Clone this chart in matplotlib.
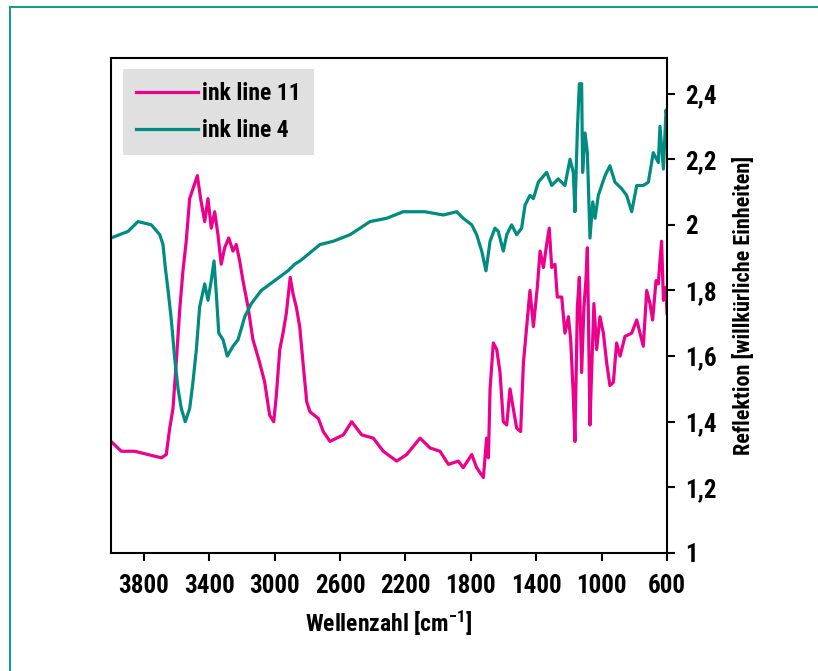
import matplotlib
matplotlib.use('Agg')
import matplotlib.pyplot as plt
from matplotlib import font_manager
from matplotlib.lines import Line2D
from matplotlib.ticker import FuncFormatter

# ink line 11 (pink)
wn_11 = [4000, 3937, 3855, 3774, 3692, 3662, 3641, 3621, 3601, 3580, 3560, 3540, 3519,
         3492, 3472, 3452, 3427, 3407, 3387, 3366, 3346, 3326, 3305, 3280, 3254, 3234,
         3213, 3193, 3162, 3132, 3091, 3060, 3030, 3005, 2989, 2968, 2948, 2928, 2904,
         2887, 2867, 2846, 2824, 2803, 2783, 2732, 2702, 2661, 2579, 2528, 2467, 2396,
         2335, 2253, 2192, 2110, 2049, 1988, 1937, 1876, 1846, 1794, 1764, 1723, 1703,
         1692, 1682, 1662, 1641, 1621, 1601, 1580, 1560, 1540, 1519, 1495, 1478, 1458,
         1438, 1417, 1393, 1376, 1356, 1336, 1320, 1305, 1285, 1271, 1244, 1224, 1203,
         1189, 1173, 1163, 1148, 1136, 1122, 1108, 1096, 1087, 1079, 1071, 1061, 1047,
         1030, 1010, 989, 969, 949, 928, 908, 887, 857, 816, 785, 765, 745, 724, 704,
         688, 667, 653, 643, 633, 622, 606, 600]
refl_11 = [1.34, 1.31, 1.31, 1.30, 1.29, 1.30, 1.38, 1.44, 1.58, 1.74, 1.86, 1.95, 2.08,
           2.12, 2.15, 2.08, 2.01, 2.08, 1.99, 2.04, 1.97, 1.88, 1.93, 1.96, 1.92, 1.94,
           1.89, 1.83, 1.75, 1.65, 1.58, 1.52, 1.42, 1.40, 1.48, 1.62, 1.67, 1.73, 1.84,
           1.79, 1.75, 1.69, 1.57, 1.46, 1.43, 1.41, 1.37, 1.34, 1.36, 1.40, 1.36, 1.35,
           1.31, 1.28, 1.30, 1.35, 1.32, 1.31, 1.27, 1.28, 1.26, 1.30, 1.26, 1.23, 1.35,
           1.29, 1.50, 1.64, 1.62, 1.55, 1.40, 1.39, 1.50, 1.44, 1.38, 1.37, 1.58, 1.69,
           1.80, 1.69, 1.81, 1.92, 1.87, 1.94, 1.99, 1.87, 1.88, 1.78, 1.78, 1.67, 1.72,
           1.65, 1.48, 1.34, 1.75, 1.84, 1.55, 1.75, 1.83, 1.93, 1.67, 1.39, 1.55, 1.76,
           1.62, 1.72, 1.67, 1.58, 1.51, 1.52, 1.64, 1.60, 1.66, 1.67, 1.71, 1.67, 1.63,
           1.80, 1.76, 1.71, 1.83, 1.82, 1.89, 1.95, 1.77, 1.81, 1.73]

# ink line 4 (teal)
wn_4 = [4000, 3896, 3835, 3753, 3702, 3682, 3668, 3651, 3631, 3610, 3590, 3570, 3546,
        3519, 3499, 3478, 3458, 3427, 3407, 3387, 3370, 3356, 3341, 3315, 3289, 3254,
        3223, 3182, 3142, 3081, 2999, 2918, 2877, 2844, 2795, 2722, 2641, 2538, 2416,
        2314, 2213, 2080, 1968, 1886, 1846, 1794, 1764, 1733, 1707, 1682, 1652, 1632,
        1601, 1580, 1550, 1519, 1489, 1468, 1438, 1417, 1387, 1336, 1305, 1265, 1224,
        1193, 1173, 1163, 1148, 1136, 1122, 1116, 1101, 1087, 1071, 1054, 1040, 1020,
        979, 949, 918, 877, 847, 816, 785, 745, 714, 684, 653, 643, 622, 606, 600]
refl_4 = [1.96, 1.98, 2.01, 2.00, 1.97, 1.94, 1.87, 1.80, 1.71, 1.59, 1.50, 1.44, 1.40,
          1.44, 1.52, 1.62, 1.75, 1.82, 1.77, 1.83, 1.89, 1.79, 1.67, 1.65, 1.60, 1.63,
          1.65, 1.72, 1.76, 1.80, 1.83, 1.86, 1.88, 1.89, 1.91, 1.94, 1.95, 1.97, 2.01,
          2.02, 2.04, 2.04, 2.03, 2.04, 2.02, 2.00, 1.97, 1.92, 1.86, 1.95, 1.99, 1.98,
          1.92, 1.97, 2.00, 1.97, 1.99, 2.06, 2.09, 2.08, 2.13, 2.16, 2.12, 2.14, 2.12,
          2.20, 2.16, 2.04, 2.29, 2.43, 2.43, 2.16, 2.28, 2.22, 1.96, 2.07, 2.02, 2.09,
          2.15, 2.18, 2.13, 2.11, 2.09, 2.04, 2.12, 2.12, 2.13, 2.22, 2.19, 2.30, 2.17,
          2.35, 2.33]

x_ticks = [3800, 3400, 3000, 2600, 2200, 1800, 1400, 1000, 600]
y_ticks = [1, 1.2, 1.4, 1.6, 1.8, 2, 2.2, 2.4]


def pick_font():
    # look for a bold condensed face, fall back to DejaVu Sans
    fonts = font_manager.fontManager.ttflist
    for want in ['Liberation Sans Narrow', 'Roboto Condensed', 'Open Sans Condensed',
                 'Noto Sans Condensed', 'DejaVu Sans Condensed']:
        for f in fonts:
            if f.name == want:
                return f.name, 'normal'
    for f in fonts:
        if ('Narrow' in f.name or 'Condensed' in f.name) and f.weight in ('bold', 700):
            return f.name, 'normal'
    for f in fonts:
        if f.stretch in ('condensed', 'semi-condensed', 'extra-condensed') and \
                f.weight in ('bold', 700):
            return f.name, f.stretch
    return 'DejaVu Sans', 'normal'


fam, stretch = pick_font()
plt.rcParams['font.family'] = [fam, 'DejaVu Sans']
plt.rcParams['font.stretch'] = stretch
plt.rcParams['font.weight'] = 'bold'
plt.rcParams['mathtext.fontset'] = 'custom'
plt.rcParams['mathtext.rm'] = fam + ':bold'
plt.rcParams['mathtext.default'] = 'rm'

pink = '#ec008c'
teal = '#008c80'

fig = plt.figure(figsize=(8.18, 6.71), dpi=100)
ax = fig.add_axes([0.1357, 0.1759, 0.6797, 0.7384])

ax.plot(wn_11, refl_11, color=pink, lw=2.3, label='ink line 11')
ax.plot(wn_4, refl_4, color=teal, lw=2.3, label='ink line 4')

ax.set_xlim(4000, 600)
ax.set_ylim(1, 2.51)
ax.set_xticks(x_ticks)
ax.set_yticks(y_ticks)
ax.yaxis.tick_right()
ax.yaxis.set_label_position('right')
ax.yaxis.set_major_formatter(FuncFormatter(lambda v, p: f'{v:g}'.replace('.', ',')))
ax.tick_params(axis='both', direction='out', length=6, width=1.5,
               labelsize=18, pad=7)
ax.tick_params(axis='x', pad=9)
for s in ax.spines.values():
    s.set_linewidth(1.5)

ax.set_xlabel('Wellenzahl [cm$^{-1}$]', fontsize=17, fontweight='bold', labelpad=8)
ax.set_ylabel('Reflektion [willkürliche Einheiten]', fontsize=16, fontweight='bold',
              labelpad=12)

leg = ax.legend(loc='upper left', bbox_to_anchor=(0.022, 0.977), fontsize=17,
                frameon=True, fancybox=False, facecolor='#e0e0e0', edgecolor='none',
                framealpha=1, handlelength=2.6, handletextpad=0.2, borderpad=0.55,
                labelspacing=0.6, borderaxespad=0)
for t in leg.get_texts():
    t.set_fontweight('bold')
    t.set_color('black')

# teal page frame
fig.add_artist(Line2D([10 / 818, 10 / 818], [0, 1 - 7 / 671], color='#1a9a8f', lw=1.5,
                      transform=fig.transFigure))
fig.add_artist(Line2D([10 / 818, 1], [1 - 7 / 671, 1 - 7 / 671], color='#1a9a8f', lw=1.5,
                      transform=fig.transFigure))

fig.savefig('out.png', dpi=100)
